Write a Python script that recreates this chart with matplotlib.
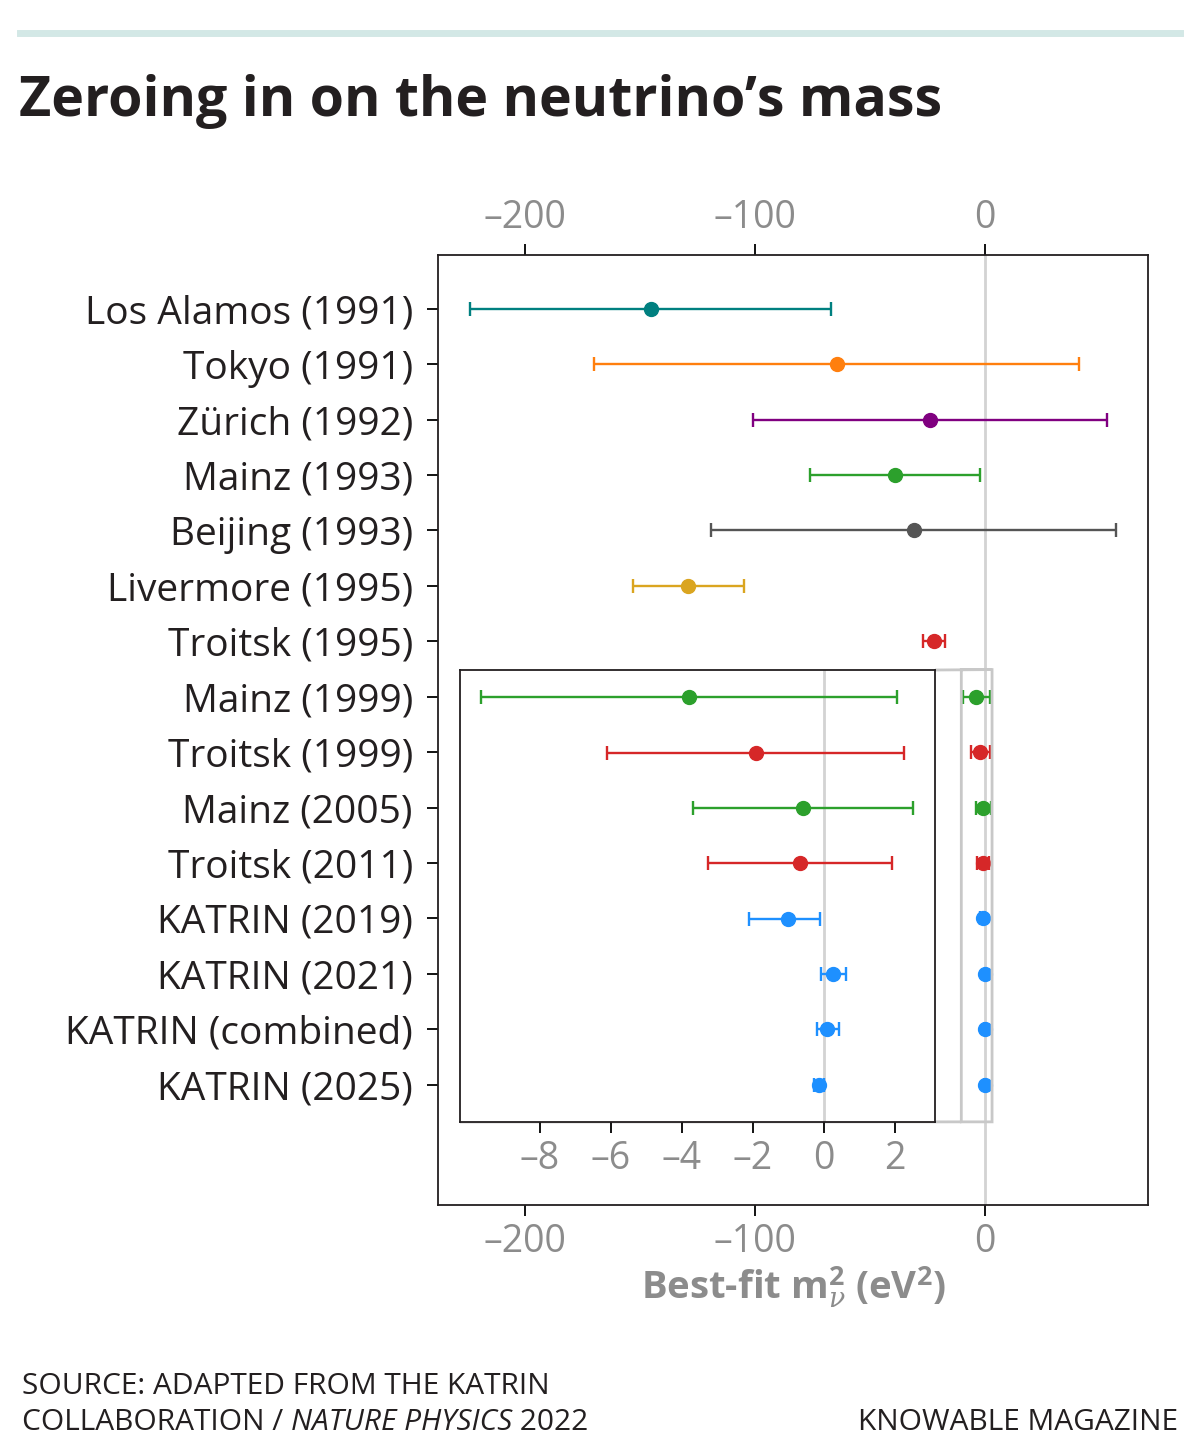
import matplotlib
matplotlib.use("Agg")
import matplotlib.pyplot as plt
from matplotlib.lines import Line2D

plt.rcParams['font.family'] = ['Open Sans', 'DejaVu Sans']
plt.rcParams['mathtext.fontset'] = 'custom'
plt.rcParams['mathtext.rm'] = 'Open Sans:bold'
plt.rcParams['mathtext.bf'] = 'Open Sans:bold'
plt.rcParams['mathtext.it'] = 'DejaVu Serif:italic'

# ---- data ----
experiments = ["Los Alamos (1991)", "Tokyo (1991)", "Zürich (1992)", "Mainz (1993)",
               "Beijing (1993)", "Livermore (1995)", "Troitsk (1995)", "Mainz (1999)",
               "Troitsk (1999)", "Mainz (2005)", "Troitsk (2011)", "KATRIN (2019)",
               "KATRIN (2021)", "KATRIN (combined)", "KATRIN (2025)"]
best_fit = [-145.5, -64.5, -24, -39, -31, -129, -22, -3.8, -1.9, -0.6, -0.67, -1.0, 0.26, 0.1, -0.14]
err_low = [78.5, 105.5, 77, 37, 88, 24, 4.8, 5.85, 4.2, 3.1, 2.6, 1.1, 0.33, 0.3, 0.15]
err_high = [78.5, 105.5, 77, 37, 88, 24, 4.8, 5.85, 4.15, 3.1, 2.6, 0.9, 0.35, 0.32, 0.13]
colors = ["#008080", "#ff7f0e", "#800080", "#2ca02c", "#555555", "#daa520", "#d62728",
          "#2ca02c", "#d62728", "#2ca02c", "#d62728", "#1e90ff", "#1e90ff", "#1e90ff", "#1e90ff"]
n_zoom = 7  # rows from Mainz (1999) onwards shown in the inset

ink = "#231f20"
tick_grey = "#8c8c8c"

fig = plt.figure(figsize=(12, 14.53), dpi=100)

# top rule + title
fig.add_artist(Line2D([20 / 1200, 1180 / 1200], [1 - 33 / 1453] * 2, color="#d3e8e6", lw=5))
fig.text(19 / 1200, 1 - 116 / 1453, "Zeroing in on the neutrino’s mass", fontsize=40,
         fontweight="bold", color=ink, ha="left", va="baseline")

ax = fig.add_axes([438 / 1200, 1 - 1205 / 1453, 710 / 1200, 950 / 1453])
ypos = [-i for i in range(len(experiments))]

ax.axvline(0, color="#d3d3d3", lw=2, zorder=0)
for y, x, lo, hi, c in zip(ypos, best_fit, err_low, err_high, colors):
    ax.errorbar(x, y, xerr=[[lo], [hi]], fmt="o", color=c, ms=10, elinewidth=1.7,
                capsize=5, capthick=1.7)

ax.set_xlim(-238, 71)
ax.set_ylim(-14 - 2.17, 0.97)
ax.set_yticks(ypos)
ax.set_yticklabels(experiments, fontsize=28, color=ink)
ax.set_xticks([-200, -100, 0])
ax.set_xticklabels(["\u2013200", "\u2013100", "0"])
ax.tick_params(axis="x", top=True, labeltop=True, labelsize=27, labelcolor=tick_grey,
               length=8, width=1.3, pad=5)
ax.tick_params(axis="y", length=8, width=1.3, pad=10)
for s in ax.spines.values():
    s.set_linewidth(1.3)
    s.set_color(ink)
ax.set_xlabel(r"Best-fit m$^{2}_{\nu}$ (eV$^{2}$)", fontsize=27.5, fontweight="bold",
              color=tick_grey, labelpad=2)

# inset zoom on the recent measurements
axins = fig.add_axes([460 / 1200, 1 - 1122 / 1453, 475 / 1200, 452 / 1453])
axins.axvline(0, color="#d3d3d3", lw=2, zorder=0)
for y, x, lo, hi, c in zip(ypos[n_zoom:], best_fit[n_zoom:], err_low[n_zoom:],
                           err_high[n_zoom:], colors[n_zoom:]):
    axins.errorbar(x, y, xerr=[[lo], [hi]], fmt="o", color=c, ms=10, elinewidth=1.7,
                   capsize=5, capthick=1.7)
axins.set_xlim(-10.25, 3.13)
axins.set_ylim(-14.67, -6.51)
axins.set_yticks([])
axins.set_xticks([-8, -6, -4, -2, 0, 2])
axins.set_xticklabels(["\u20138", "\u20136", "\u20134", "\u20132", "0", "2"])
axins.tick_params(axis="x", labelsize=27, labelcolor=tick_grey, length=8, width=1.3, pad=5)
for s in axins.spines.values():
    s.set_linewidth(1.3)
    s.set_color(ink)
ax.indicate_inset_zoom(axins, edgecolor="#c8c8c8", alpha=1, lw=2)

# footer
fs = 21.5
src1 = fig.text(22 / 1200, 1 - 1394 / 1453, "SOURCE: ADAPTED FROM THE KATRIN", fontsize=fs,
                color=ink, ha="left", va="baseline")
src2 = fig.text(22 / 1200, 1 - 1430 / 1453, "COLLABORATION / ", fontsize=fs,
                color=ink, ha="left", va="baseline")
src3 = fig.text(0, 0, "NATURE PHYSICS", fontsize=fs, color=ink, style="italic",
                ha="left", va="baseline")
fig.canvas.draw()
r = fig.canvas.get_renderer()
bb = src2.get_window_extent(r)
src3.set_position((bb.x1 / fig.bbox.width, 1 - 1430 / 1453))
bb3 = src3.get_window_extent(r)
fig.text(bb3.x1 / fig.bbox.width, 1 - 1430 / 1453, " 2022", fontsize=fs, color=ink,
         ha="left", va="baseline")
fig.text(1178 / 1200, 1 - 1430 / 1453, "KNOWABLE MAGAZINE", fontsize=fs, color=ink,
         ha="right", va="baseline")

fig.savefig("out.png", dpi=100)
